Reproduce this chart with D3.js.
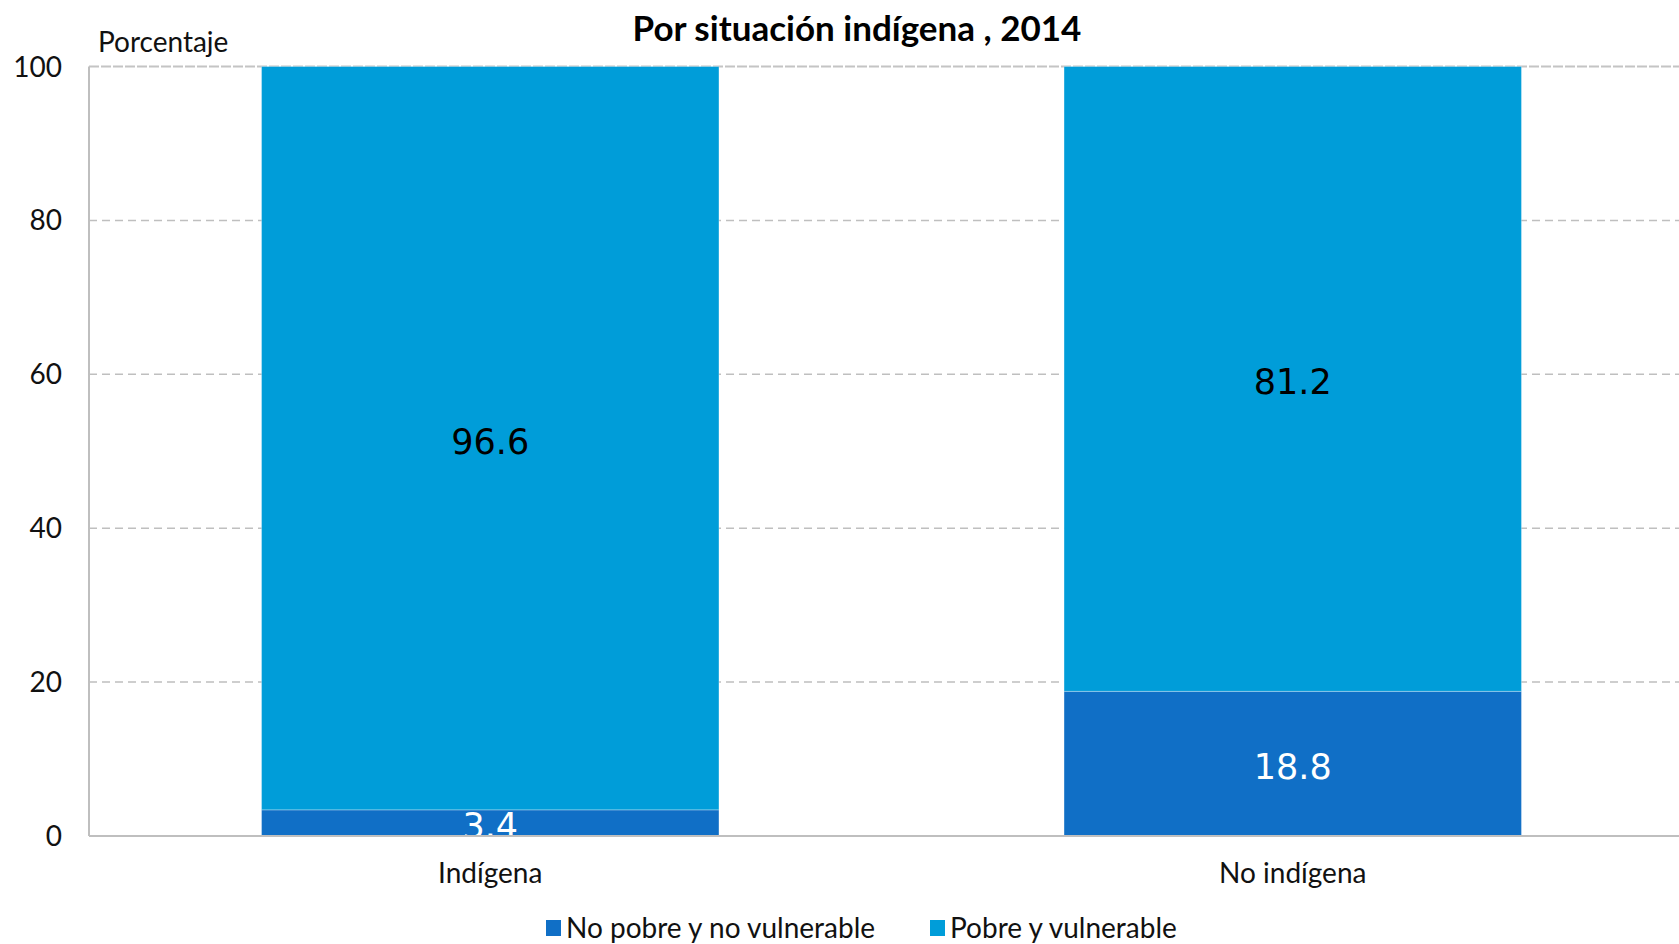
<!DOCTYPE html>
<html>
<head>
<meta charset="utf-8">
<script src="https://cdn.jsdelivr.net/npm/d3@7"></script>
<style>
  body { margin: 0; background: #fff; }
  svg text { font-family: Lato, "Noto Sans", sans-serif; }
</style>
</head>
<body>
<svg id="chart" width="1679" height="944"></svg>
<script>
var categories = ['Indígena', 'No indígena']
var seriesNames = ['No pobre y no vulnerable', 'Pobre y vulnerable']
var noPobre = [3.4, 18.8]
var pobre = [96.6, 81.2]
var yTicks = [0, 20, 40, 60, 80, 100]
var colors = ['#106fc6', '#009dd9']

var svg = d3.select('#chart')
var plotLeft = 89, plotRight = 1694, plotTop = 66.5, plotBottom = 836

var x = d3.scaleBand().domain(categories).range([plotLeft, plotRight])
    .paddingInner(0.43).paddingOuter(0.215)
var y = d3.scaleLinear().domain([0, 100]).range([plotBottom, plotTop])

// grid lines
svg.append('g').selectAll('line.grid')
    .data(yTicks.filter(function(d){ return d > 0 && d < 100 }))
    .enter().append('line')
    .attr('class', 'grid')
    .attr('x1', plotLeft).attr('x2', 1679)
    .attr('y1', function(d){ return y(d) })
    .attr('y2', function(d){ return y(d) })
    .attr('stroke', '#bfbfbf')
    .attr('stroke-width', 1.5)
    .attr('stroke-dasharray', '8,5')
svg.append('line')
    .attr('x1', plotLeft).attr('x2', 1679)
    .attr('y1', y(100)).attr('y2', y(100))
    .attr('stroke', '#c4c4c4').attr('stroke-width', 2)
    .attr('stroke-dasharray', '10,2')

// stacked data
var rows = categories.map(function(c, i){
    return {cat: c, a: noPobre[i], b: pobre[i]}
})
var stack = d3.stack().keys(['a', 'b'])(rows)

var groups = svg.append('g').selectAll('g.layer')
    .data(stack).enter().append('g')
    .attr('class', 'layer')
    .attr('fill', function(d, i){ return colors[i] })

groups.selectAll('rect')
    .data(function(d){ return d })
    .enter().append('rect')
    .attr('x', function(d){ return x(d.data.cat) })
    .attr('width', x.bandwidth())
    .attr('y', function(d){ return y(d[1]) })
    .attr('height', function(d){ return y(d[0]) - y(d[1]) })
    .attr('stroke', 'rgba(255,255,255,0.3)')
    .attr('stroke-width', 1)

// value labels
stack.forEach(function(layer, li){
    svg.append('g').selectAll('text')
        .data(layer).enter().append('text')
        .attr('x', function(d){ return x(d.data.cat) + x.bandwidth() / 2 })
        .attr('y', function(d){ return y((d[0] + d[1]) / 2) + 3.5 })
        .attr('text-anchor', 'middle')
        .attr('dominant-baseline', 'central')
        .style('font-family', '"DejaVu Sans", sans-serif')
        .attr('font-size', '35px')
        .attr('fill', li == 0 ? 'white' : 'black')
        .text(function(d){ return d3.format('.1f')(d[1] - d[0]) })
})

// axes lines
svg.append('line')
    .attr('x1', plotLeft).attr('x2', plotLeft)
    .attr('y1', plotTop).attr('y2', plotBottom)
    .attr('stroke', '#bfbfbf').attr('stroke-width', 2)
svg.append('line')
    .attr('x1', plotLeft).attr('x2', 1679)
    .attr('y1', plotBottom).attr('y2', plotBottom)
    .attr('stroke', '#bfbfbf').attr('stroke-width', 2)

// y tick labels
svg.append('g').selectAll('text.ytick')
    .data(yTicks).enter().append('text')
    .attr('class', 'ytick')
    .attr('x', 62)
    .attr('y', function(d){ return y(d) - 1 })
    .attr('text-anchor', 'end')
    .attr('dominant-baseline', 'central')
    .attr('font-size', '28px')
    .attr('fill', '#111')
    .text(function(d){ return d })

// category labels
svg.append('g').selectAll('text.cat')
    .data(categories).enter().append('text')
    .attr('class', 'cat')
    .attr('x', function(d){ return x(d) + x.bandwidth() / 2 })
    .attr('y', 872)
    .attr('text-anchor', 'middle')
    .attr('dominant-baseline', 'central')
    .attr('font-size', '28px')
    .attr('fill', '#111')
    .text(function(d){ return d })

// title and y label
svg.append('text')
    .attr('x', 857).attr('y', 27)
    .attr('text-anchor', 'middle')
    .attr('dominant-baseline', 'central')
    .attr('font-size', '35px')
    .attr('font-weight', 'bold')
    .attr('fill', '#000')
    .text('Por situación indígena , 2014')

svg.append('text')
    .attr('x', 98).attr('y', 41)
    .attr('dominant-baseline', 'central')
    .attr('font-size', '28px')
    .attr('fill', '#111')
    .text('Porcentaje')

// legend
var legendX = [546, 930]
var legend = svg.append('g').selectAll('g.leg')
    .data(seriesNames).enter().append('g')
    .attr('class', 'leg')
    .attr('transform', function(d, i){ return 'translate(' + legendX[i] + ',927)' })
legend.append('rect')
    .attr('x', 0).attr('y', -7)
    .attr('width', 15).attr('height', 16)
    .attr('fill', function(d, i){ return colors[i] })
legend.append('text')
    .attr('x', 20).attr('y', 0)
    .attr('dominant-baseline', 'central')
    .attr('font-size', '28px')
    .attr('fill', '#111')
    .text(function(d){ return d })
</script>
</body>
</html>
